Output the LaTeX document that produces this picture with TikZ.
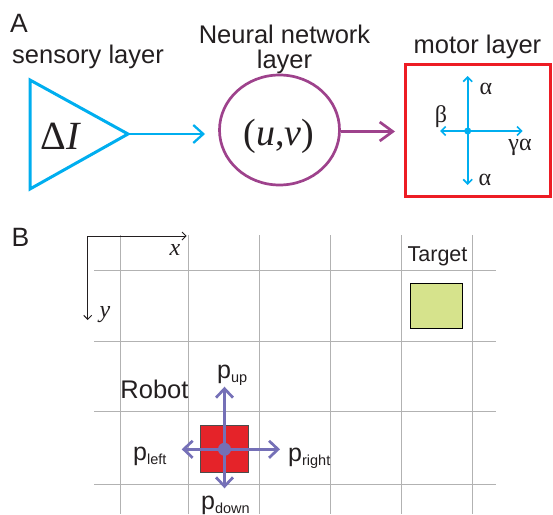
\documentclass[tikz,border=0pt]{standalone}
\usepackage{fontspec}
\setmainfont{Liberation Sans}
\newfontfamily\serifgr{Liberation Serif}
\usetikzlibrary{arrows.meta,shapes.geometric}
\definecolor{cyanc}{RGB}{0,174,239}
\definecolor{plum}{RGB}{158,66,140}
\definecolor{boxred}{RGB}{237,28,36}
\definecolor{robred}{RGB}{229,35,41}
\definecolor{robarrow}{RGB}{117,112,183}
\definecolor{targ}{RGB}{214,227,140}
\definecolor{txt}{RGB}{35,31,32}
\definecolor{gridc}{RGB}{178,178,178}
\tikzset{
  lab/.style={font=\fontsize{25.5}{28}\selectfont, inner sep=0pt, anchor=base, text=txt},
  panel/.style={font=\fontsize{26.5}{30}\selectfont, inner sep=0pt, anchor=base, text=txt},
  greek/.style={font=\serifgr\fontsize{24}{24}\selectfont, inner sep=0pt, anchor=base, text=txt},
  plab/.style={font=\fontsize{25}{28}\selectfont, inner sep=0pt, anchor=base west, text=txt},
  crossarrow/.style={cyanc, line width=1.7pt, -{Straight Barb[length=4.5pt,width=9pt]}},
  robarr/.style={robarrow, line width=2.7pt, -{Straight Barb[length=9pt,width=17pt]}},
  gridline/.style={gridc, line width=1pt},
}
\newcommand{\psub}[1]{p\raisebox{-4pt}{\fontsize{14.5}{15}\selectfont #1}}
\begin{document}
\begin{tikzpicture}[x=1pt,y=-1pt]
\useasboundingbox (0,0) rectangle (553,514);
% ---------- Panel A ----------
\node[panel] (A) at (19,32) {A};
\node[lab] (senslab) at (88,63) {sensory layer};
\coordinate (t1) at (30,80);
\coordinate (t2) at (30,189);
\coordinate (tip) at (128,134);
\draw[cyanc, line width=3pt, line join=miter] (t1) -- (tip) -- (t2) -- cycle;
\node[anchor=base, inner sep=0pt, text=txt, font=\serifgr\fontsize{40}{40}\selectfont] (dI) at (61,149) {Δ\textit{I}};
\coordinate (a1end) at (205,134);
\draw[cyanc, line width=2.3pt, -{Straight Barb[length=10pt,width=18pt]}] (tip) -- (a1end);

\node[lab] (nnl1) at (284.5,43.3) {Neural network};
\node[lab] (nnl2) at (284.5,68.5) {layer};
\node[draw=plum, line width=2.7pt, ellipse, minimum width=120pt, minimum height=110pt, inner sep=0pt] (nn) at (279.5,130) {};
\node[anchor=base, inner sep=0pt, text=txt, font=\serifgr\fontsize{38}{38}\selectfont] (uv) at (279,145) {(\textit{u},\textit{v})};
\coordinate (a2end) at (395,131.5);
\draw[plum, line width=2.7pt, -{Straight Barb[length=13pt,width=19pt]}] (nn.east |- a2end) -- (a2end);

\node[lab] (motlab) at (477.5,53.3) {motor layer};
\node[draw=boxred, line width=2.7pt, minimum width=145pt, minimum height=132pt, inner sep=0pt] (motor) at (478,130.8) {};
\node[circle, fill=cyanc, inner sep=0pt, minimum size=7pt] (dot) at (467.7,131) {};
\coordinate (cu) at (467.7,76);
\coordinate (cd) at (467.7,185);
\coordinate (cl) at (440,131);
\coordinate (cr) at (522.7,131);
\draw[crossarrow] (dot.center) -- (cu);
\draw[crossarrow] (dot.center) -- (cd);
\draw[crossarrow] (dot.center) -- (cl);
\draw[crossarrow] (dot.center) -- (cr);
\node[greek] (al1) at (486,94) {α};
\node[greek] (be) at (441,122) {β};
\node[greek] (ga) at (520,150) {γα};
\node[greek] (al2) at (485,185) {α};

% ---------- Panel B ----------
\node[panel] (B) at (20.5,246.7) {B};
% grid
\foreach \gx in {120.5,188.5,259.5,330.5,401.5,472.5}
  \draw[gridline] (\gx,235) -- (\gx,514);
\foreach \gy in {270.5,341.5,411.5,484.5}
  \draw[gridline] (94,\gy) -- (496,\gy);
% axes
\coordinate (org) at (87.7,236);
\coordinate (axx) at (186.7,236);
\coordinate (axy) at (87.7,320);
\draw[txt, line width=1pt, {Straight Barb[length=4pt,width=8pt]}-{Straight Barb[length=4pt,width=8pt]}] (axx) -- (org) -- (axy);
\node[anchor=base, inner sep=0pt, text=txt, font=\serifgr\itshape\fontsize{24}{24}\selectfont] (xl) at (175,255) {x};
\node[anchor=base, inner sep=0pt, text=txt, font=\serifgr\itshape\fontsize{24}{24}\selectfont] (yl) at (105,317) {y};
% target
\node[lab, font=\fontsize{21.5}{24}\selectfont] (targlab) at (437.5,261.7) {Target};
\node[draw=black, fill=targ, line width=1pt, minimum width=52pt, minimum height=45pt, inner sep=0pt] (target) at (436.7,306.3) {};
% robot
\node[lab] (roblab) at (154.5,398.3) {Robot};
\node[draw=black!70, fill=robred, line width=1pt, minimum width=48pt, minimum height=47pt, inner sep=0pt] (robot) at (224.5,449) {};
\node[circle, fill=robarrow, inner sep=0pt, minimum size=13pt] (rdot) at (224.5,449.3) {};
\coordinate (ru) at (224.5,386.7);
\coordinate (rd) at (224.5,488.3);
\coordinate (rl) at (181.7,449.3);
\coordinate (rr) at (280,449.3);
\draw[robarr] (rdot.center) -- (ru);
\draw[robarr] (rdot.center) -- (rd);
\draw[robarr] (rdot.center) -- (rl);
\draw[robarr] (rdot.center) -- (rr);
\node[plab] (pup) at (217,378) {\psub{up}};
\node[plab] (pleft) at (133,460) {\psub{left}};
\node[plab] (pright) at (288,461.7) {\psub{right}};
\node[plab] (pdown) at (201,509) {\psub{down}};
\end{tikzpicture}
\end{document}
